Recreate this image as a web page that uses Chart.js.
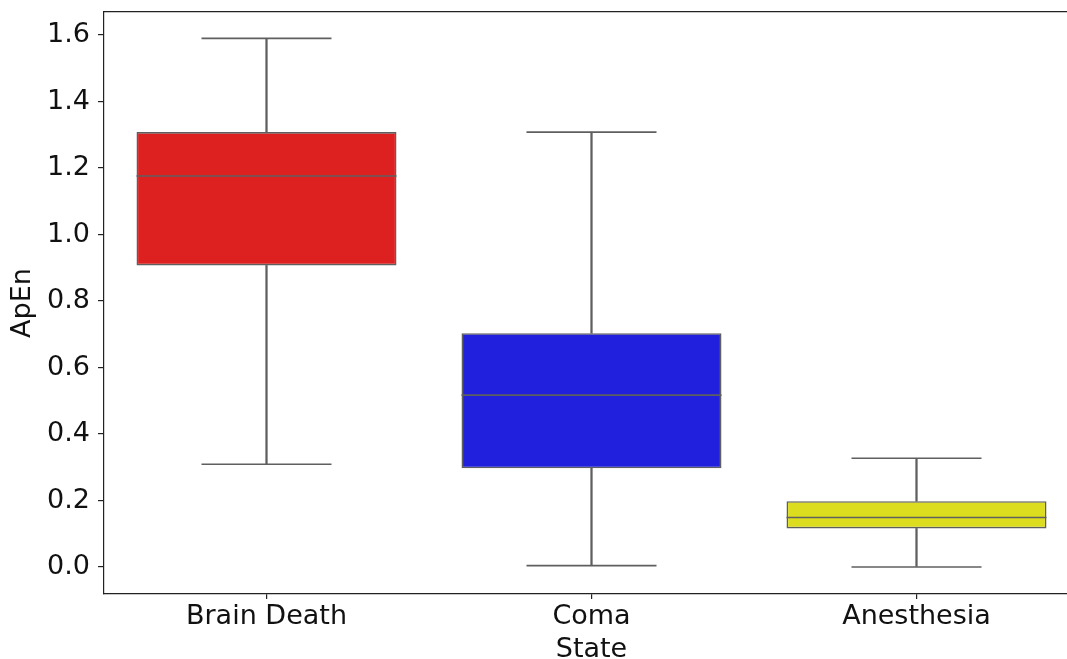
<!DOCTYPE html>
<html>
<head>
<meta charset="utf-8">
<script src="https://cdn.jsdelivr.net/npm/chart.js@4"></script>
<style>
  html, body { margin: 0; padding: 0; background: #fff; overflow: hidden; }
  #wrap { width: 1067px; height: 659px; overflow: hidden; }
</style>
</head>
<body>
<div id="wrap"><canvas id="myChart" width="1079" height="659"></canvas></div>
<script>
// box plot values
let categories = ["Brain Death", "Coma", "Anesthesia"];
let whiskerLow = [0.309, 0.004, 0.0];
let q1 = [0.907, 0.297, 0.116];
let median = [1.176, 0.517, 0.149];
let q3 = [1.308, 0.703, 0.198];
let whiskerHigh = [1.590, 1.308, 0.327];
let yTicks = [0.0, 0.2, 0.4, 0.6, 0.8, 1.0, 1.2, 1.4, 1.6];
let boxColors = ["rgb(221,32,32)", "rgb(32,32,221)", "rgb(221,221,32)"];

let lineGray = "#5f5f5f";
let axisColor = "#222222";
let font = { family: "DejaVu Sans", size: 27 };

// half width of a horizontal line, as a share of one category slot
function halfWidth(share) {
    return (c) => {
        let x = c.chart.scales.x;
        return x ? x.width / categories.length * share : 0;
    };
}

let datasets = [
    {
        type: "bar",
        data: categories.map((c, i) => [whiskerLow[i], q1[i]]),
        backgroundColor: lineGray,
        barThickness: 1.6,
        grouped: false,
        order: 3
    },
    {
        type: "bar",
        data: categories.map((c, i) => [q3[i], whiskerHigh[i]]),
        backgroundColor: lineGray,
        barThickness: 1.6,
        grouped: false,
        order: 3
    },
    {
        type: "bar",
        data: categories.map((c, i) => [q1[i], q3[i]]),
        backgroundColor: boxColors,
        borderColor: lineGray,
        borderWidth: 1.6,
        borderSkipped: false,
        barPercentage: 0.8,
        categoryPercentage: 1.0,
        grouped: false,
        order: 2
    },
    {
        type: "line",
        data: median,
        showLine: false,
        pointStyle: "line",
        pointRadius: halfWidth(0.4),
        pointBorderColor: lineGray,
        pointBorderWidth: 1.6,
        order: 1
    },
    {
        type: "line",
        data: whiskerHigh,
        showLine: false,
        pointStyle: "line",
        pointRadius: halfWidth(0.2),
        pointBorderColor: lineGray,
        pointBorderWidth: 1.6,
        order: 1
    },
    {
        type: "line",
        data: whiskerLow,
        showLine: false,
        pointStyle: "line",
        pointRadius: halfWidth(0.2),
        pointBorderColor: lineGray,
        pointBorderWidth: 1.6,
        order: 1
    }
];

let config = {
    type: "bar",
    data: { labels: categories, datasets },
    options: {
        responsive: false,
        animation: false,
        layout: { padding: { top: 12, left: 0, right: 0, bottom: 0 } },
        plugins: {
            legend: { display: false },
            tooltip: { enabled: false }
        },
        scales: {
            x: {
                type: "category",
                position: "bottom",
                offset: true,
                grid: { display: true, drawOnChartArea: false, offset: false, tickLength: 5, color: axisColor, lineWidth: 1.2 },
                border: { display: true, color: axisColor, width: 1.2 },
                ticks: { color: "#111", font, padding: 2, maxRotation: 0, autoSkip: false },
                title: { display: true, text: "State", color: "#111", font: { family: "DejaVu Sans", size: 27, lineHeight: 0.66 }, padding: { top: 0, bottom: 0 } },
                afterFit: (s) => { s.height = 65; s.paddingLeft = 0; s.paddingRight = 0; }
            },
            x2: {
                type: "category",
                position: "top",
                labels: categories,
                grid: { display: false },
                border: { display: true, color: axisColor, width: 1.2 },
                ticks: { display: false },
                afterFit: (s) => { s.height = 0; s.paddingLeft = 0; s.paddingRight = 0; }
            },
            y: {
                type: "linear",
                min: -0.0812,
                max: 1.6692,
                grid: { display: true, drawOnChartArea: false, tickLength: 6, color: axisColor, lineWidth: 1.2 },
                border: { display: true, color: axisColor, width: 1.2 },
                ticks: { color: "#111", font, padding: 8, callback: (v) => Number(v).toFixed(1) },
                afterBuildTicks: (s) => { s.ticks = yTicks.map((v) => ({ value: v })); },
                title: { display: true, text: "ApEn", color: "#111", font, padding: { top: 7, bottom: 0 } },
                afterFit: (s) => { s.width = 104; s.paddingTop = 0; s.paddingBottom = 0; }
            }
        }
    }
};

let ctx = document.querySelector("#myChart");
let myChart = new Chart(ctx, config);
</script>
</body>
</html>
